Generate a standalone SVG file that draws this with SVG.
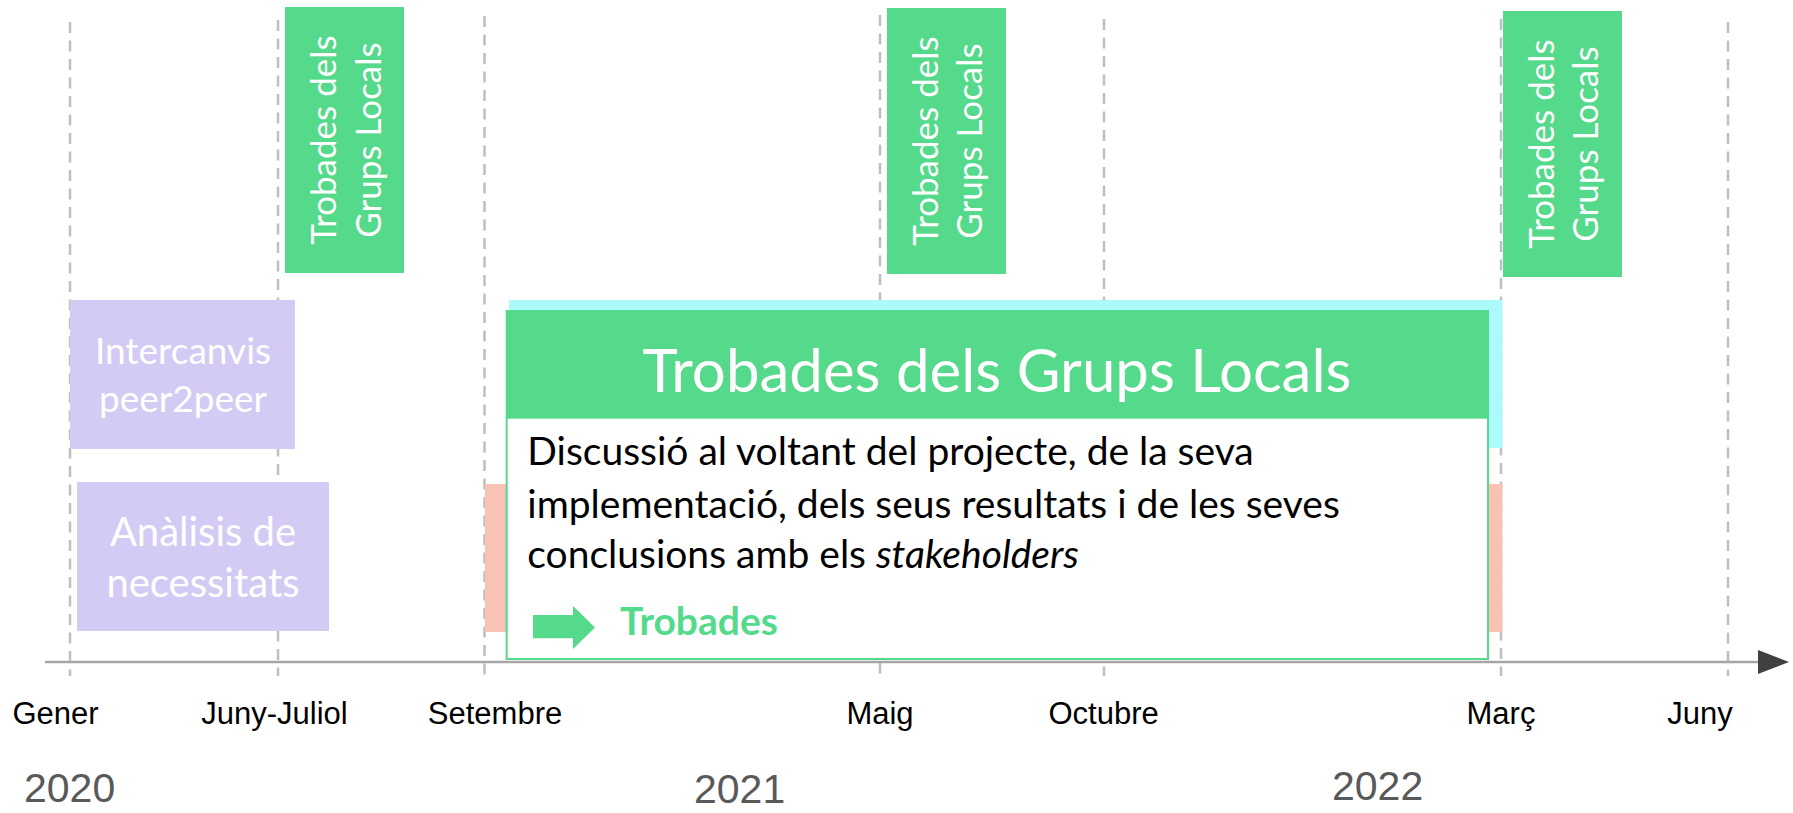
<svg xmlns="http://www.w3.org/2000/svg" width="1793" height="813" viewBox="0 0 1793 813">
<style>
.grid{stroke:#bfbfbf;stroke-width:2.5;stroke-dasharray:11 7.5;fill:none}
.axis{stroke:#a6a6a6;stroke-width:2.5;fill:none}
.green{fill:#55d98b}
.purple{fill:#d3cbf3}
.vt{font-family:Lato,"Open Sans",sans-serif;font-size:35px;fill:#ffffff;text-anchor:middle}
.pt{font-family:Lato,"Open Sans",sans-serif;fill:#ffffff;text-anchor:middle}
.month{font-family:"Liberation Sans",Arial,sans-serif;font-size:31px;fill:#000000;text-anchor:middle}
.year{font-family:"Liberation Sans",Arial,sans-serif;font-size:41px;fill:#595959}
.body{font-family:Lato,"Open Sans",sans-serif;font-size:39px;fill:#000000}
</style>
<rect width="1793" height="813" fill="#ffffff"/>
<g id="connectors">
<line class="grid" x1="70" y1="22" x2="70" y2="676"/>
<line class="grid" x1="278" y1="20" x2="278" y2="676"/>
<line class="grid" x1="484.5" y1="16" x2="484.5" y2="676"/>
<line class="grid" x1="880" y1="15" x2="880" y2="676"/>
<line class="grid" x1="1104" y1="19" x2="1104" y2="676"/>
<line class="grid" x1="1501" y1="19" x2="1501" y2="676"/>
<line class="grid" x1="1728" y1="22" x2="1728" y2="676"/>
<line class="axis" x1="45" y1="662" x2="1762" y2="662"/>
<polygon points="1758,650 1789,662 1758,674" fill="#404040"/>
</g>
<g id="trobades-1">
<rect class="green" x="285" y="7" width="119" height="266"/>
<text class="vt" transform="translate(344.5,140) rotate(-90)"><tspan x="0" y="-8.5">Trobades dels</tspan><tspan x="0" y="36.5">Grups Locals</tspan></text>
</g>
<g id="trobades-2">
<rect class="green" x="887" y="8" width="119" height="266"/>
<text class="vt" transform="translate(946.5,141) rotate(-90)"><tspan x="0" y="-9">Trobades dels</tspan><tspan x="0" y="35.5">Grups Locals</tspan></text>
</g>
<g id="trobades-3">
<rect class="green" x="1503" y="11" width="119" height="266"/>
<text class="vt" transform="translate(1562.5,144) rotate(-90)"><tspan x="0" y="-9">Trobades dels</tspan><tspan x="0" y="35.5">Grups Locals</tspan></text>
</g>
<g id="intercanvis">
<rect class="purple" x="70" y="300" width="225" height="149"/>
<text class="pt" font-size="37" x="183" y="364">Intercanvis</text>
<text class="pt" font-size="37" x="183" y="412">peer2peer</text>
</g>
<g id="analisis">
<rect class="purple" x="77" y="482" width="252" height="149"/>
<text class="pt" font-size="40" x="203" y="546">Anàlisis de</text>
<text class="pt" font-size="40" x="203" y="597">necessitats</text>
</g>
<g id="main">
<rect x="485" y="484" width="1017.5" height="148" fill="#f8c2b4"/>
<rect x="509" y="300" width="993.5" height="148" fill="#adfafc"/>
<rect class="green" x="505.7" y="310" width="983.3" height="108"/>
<rect x="506.7" y="417.7" width="981.3" height="241.3" fill="#ffffff" stroke="#55d98b" stroke-width="2"/>
<text x="997" y="392" font-family="Lato,'Open Sans',sans-serif" font-size="60" fill="#ffffff" text-anchor="middle">Trobades dels Grups Locals</text>
<text class="body" x="527.3" y="465">Discussió al voltant del projecte, de la seva</text>
<text class="body" x="527.3" y="517.7">implementació, dels seus resultats i de les seves</text>
<text class="body" x="527.3" y="568.3">conclusions amb els <tspan font-style="italic">stakeholders</tspan></text>
<polygon class="green" points="533,615 573,615 573,606 595,627.5 573,649 573,638.3 533,638.3"/>
<text x="620" y="635" font-family="Lato,'Open Sans',sans-serif" font-size="39" font-weight="bold" fill="#55d98b">Trobades</text>
</g>
<g id="labels">
<text class="month" x="55.5" y="724">Gener</text>
<text class="month" x="274.5" y="724">Juny-Juliol</text>
<text class="month" x="495" y="724">Setembre</text>
<text class="month" x="880" y="724">Maig</text>
<text class="month" x="1103.6" y="724">Octubre</text>
<text class="month" x="1501" y="724">Març</text>
<text class="month" x="1700" y="724">Juny</text>
<text class="year" x="24" y="802">2020</text>
<text class="year" x="694" y="803">2021</text>
<text class="year" x="1332" y="800">2022</text>
</g>
</svg>
